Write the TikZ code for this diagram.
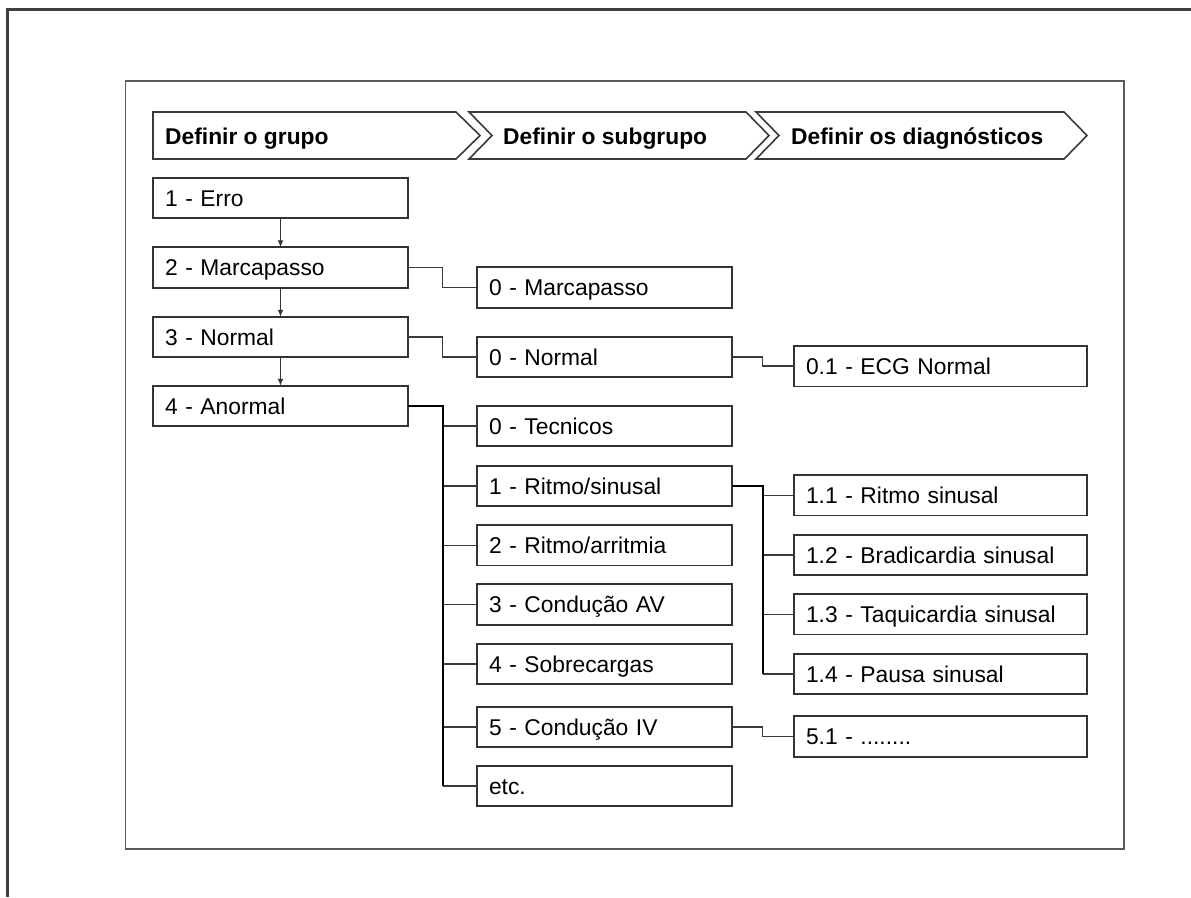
\documentclass[tikz,border=0pt]{standalone}
\usepackage{fontspec}
\setmainfont{Liberation Sans}
\usetikzlibrary{arrows.meta}
\definecolor{framegray}{HTML}{404040}
\definecolor{panelgray}{HTML}{5A5A5A}
\definecolor{boxgray}{HTML}{333333}
\definecolor{linkgray}{HTML}{3A3A3A}
\begin{document}
\begin{tikzpicture}[x=1pt,y=-1pt,
  txt/.style={font=\fontsize{22.8}{27}\selectfont},
  item/.style={txt,draw=boxgray,line width=1.6pt,fill=white,anchor=west,
    minimum height=40.5pt,inner xsep=12pt,inner ysep=0pt,outer sep=0pt,
    align=left,text height=16.4pt,text depth=0pt},
  colA/.style={item,minimum width=255pt,text width=231pt},
  colB/.style={item,minimum width=255pt,text width=231pt},
  colC/.style={item,minimum width=293pt,text width=269pt},
  head/.style={txt,font=\fontsize{22.8}{27}\selectfont\bfseries,anchor=base west,inner sep=0pt},
  chevron/.style={draw=linkgray,line width=1.6pt,line join=miter},
  down/.style={draw=boxgray,line width=1.3pt,-{Latex[length=7pt,width=6pt]}},
  link/.style={draw=linkgray,line width=1.5pt},
  trunk/.style={draw=black,line width=1.8pt},
]
\useasboundingbox (0,0) rectangle (1191,897);

% page frame (top and left edges only)
\draw[framegray,line width=3pt] (7,897) -- (7,9.5) -- (1191,9.5);
% panel
\draw[panelgray,line width=1.8pt] (125.5,81) rectangle (1124,849);

% header chevrons
\draw[chevron] (153,112) -- (456,112) -- (480,135.5) -- (456,159) -- (153,159) -- cycle;
\draw[chevron] (469,112) -- (746,112) -- (769,135.5) -- (746,159) -- (469,159) -- (492,135.5) -- cycle;
\draw[chevron] (756,112) -- (1064,112) -- (1087,135.5) -- (1064,159) -- (756,159) -- (779,135.5) -- cycle;
\node[head] (h1) at (165,144) {Definir o grupo};
\node[head] (h2) at (503,144) {Definir o subgrupo};
\node[head] (h3) at (791,144) {Definir os diagnósticos};

% groups
\node[colA] (g1) at (153,198)   {1 - Erro};
\node[colA] (g2) at (153,267.5) {2 - Marcapasso};
\node[colA] (g3) at (153,337)   {3 - Normal};
\node[colA] (g4) at (153,406)   {4 - Anormal};

% subgroups
\node[colB] (s2) at (477,287.5) {0 - Marcapasso};
\node[colB] (s3) at (477,357)   {0 - Normal};
\node[colB] (a0) at (477,426)   {0 - Tecnicos};
\node[colB] (a1) at (477,486)   {1 - Ritmo/sinusal};
\node[colB] (a2) at (477,545.3) {2 - Ritmo/arritmia};
\node[colB] (a3) at (477,604.5) {3 - Condução AV};
\node[colB] (a4) at (477,664)   {4 - Sobrecargas};
\node[colB] (a5) at (477,727)   {5 - Condução IV};
\node[colB] (a6) at (477,786)   {etc.};

% diagnoses
\node[colC] (d0)  at (794,366.2) {0.1 - ECG Normal};
\node[colC] (d11) at (794,495.3) {1.1 - Ritmo sinusal};
\node[colC] (d12) at (794,555)   {1.2 - Bradicardia sinusal};
\node[colC] (d13) at (794,614.3) {1.3 - Taquicardia sinusal};
\node[colC] (d14) at (794,674)   {1.4 - Pausa sinusal};
\node[colC] (d51) at (794,736.5) {5.1 - ........};

% sequence of groups
\draw[down] (g1.south) -- (g2.north);
\draw[down] (g2.south) -- (g3.north);
\draw[down] (g3.south) -- (g4.north);

% single links
\draw[link] (g2.east) -- ++(34.5,0) |- (s2.west);
\draw[link] (g3.east) -- ++(34.5,0) |- (s3.west);
\draw[link] (s3.east) -- ++(30.7,0) |- (d0.west);
\draw[link] (a5.east) -- ++(30.7,0) |- (d51.west);

% tree of abnormal subgroups
\path (g4.east) ++(35,0) coordinate (ta);
\foreach \n in {a0,a1,a2,a3,a4,a5,a6}
  \draw[link] (ta |- \n.west) -- (\n.west);
\draw[trunk] (g4.east) -- (ta) -- (ta |- a6.west);

% tree of sinus rhythm diagnoses
\path (a1.east) ++(30.7,0) coordinate (tb);
\foreach \n in {d11,d12,d13,d14}
  \draw[link] (tb |- \n.west) -- (\n.west);
\draw[trunk] (a1.east) -- (tb) -- (tb |- d14.west);
\end{tikzpicture}
\end{document}
